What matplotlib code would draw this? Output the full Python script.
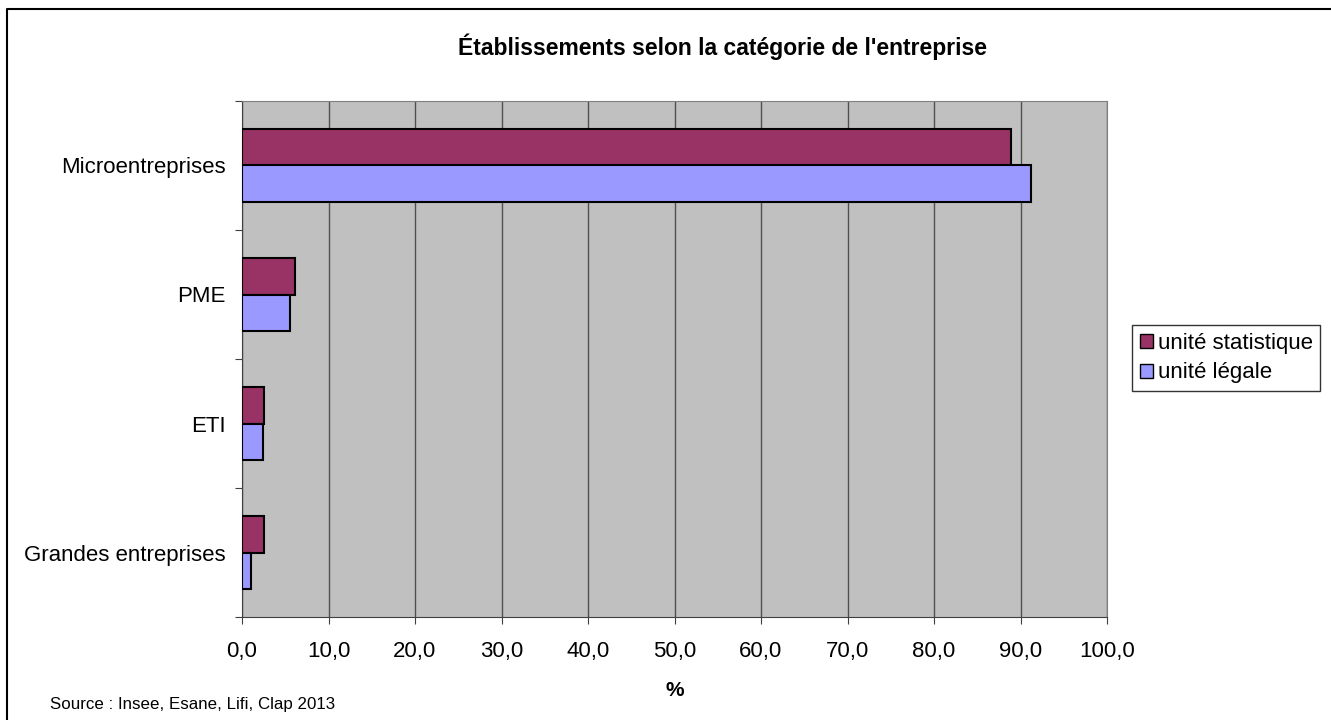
import matplotlib.pyplot as plt
from matplotlib.lines import Line2D
from matplotlib.patches import Patch
import numpy as np

plt.rcParams['font.family'] = ['Liberation Sans', 'DejaVu Sans']

categories = ['Grandes entreprises', 'ETI', 'PME', 'Microentreprises']
unite_statistique = [2.6, 2.5, 6.1, 88.9]
unite_legale = [1.0, 2.4, 5.5, 91.2]
x_ticks = np.arange(0, 101, 10)
x_tick_labels = [f'{v:.1f}'.replace('.', ',') for v in x_ticks]

fig = plt.figure(figsize=(13.31, 7.2), dpi=100)
ax = fig.add_axes([242 / 1331, 1 - 617 / 720, 865 / 1331, 516 / 720])
ax.set_facecolor('#C0C0C0')

# frame around the chart (only left and top visible in the reference)
fig.add_artist(Line2D([7 / 1331, 7 / 1331, 1.0], [0.0, 1 - 9 / 720, 1 - 9 / 720],
                      transform=fig.transFigure, color='black', lw=1.5))

y = np.arange(len(categories))
h = 0.28
ax.barh(y + h / 2, unite_statistique, height=h, color='#993366',
        edgecolor='black', linewidth=1.5, label='unité statistique', zorder=3)
ax.barh(y - h / 2, unite_legale, height=h, color='#9999FF',
        edgecolor='black', linewidth=1.5, label='unité légale', zorder=3)

ax.set_xlim(0, 100)
ax.set_ylim(-0.5, len(categories) - 0.5)
ax.set_xticks(x_ticks)
ax.set_xticklabels(x_tick_labels, fontsize=16)
ax.xaxis.grid(True, color='#505050', lw=1, zorder=1)

ax.set_yticks(np.arange(-0.5, len(categories), 1.0))
ax.set_yticklabels([])
ax.set_yticks(y, minor=True)
ax.set_yticklabels(categories, minor=True, fontsize=16)
ax.tick_params(axis='y', which='minor', length=0, pad=12)
ax.tick_params(axis='y', which='major', length=5, color='#404040')
ax.tick_params(axis='x', length=5, color='#404040', pad=12)

for side in ['top', 'right']:
    ax.spines[side].set_color('#808080')
for side in ['left', 'bottom']:
    ax.spines[side].set_color('#404040')

ax.set_xlabel('%', fontsize=15, fontweight='bold', labelpad=14)
fig.text(722 / 1331, 1 - 47 / 720, "Établissements selon la catégorie de l'entreprise",
         ha='center', va='center', fontsize=16.5, fontweight='bold')
fig.text(50 / 1331, 1 - 705 / 720, 'Source : Insee, Esane, Lifi, Clap 2013',
         ha='left', va='center', fontsize=12.2)

handles = [Patch(facecolor='#993366', edgecolor='black', label='unité statistique'),
           Patch(facecolor='#9999FF', edgecolor='black', label='unité légale')]
leg = fig.legend(handles=handles, loc='center left',
                 bbox_to_anchor=(1132 / 1331, 1 - 358 / 720), fontsize=16,
                 frameon=True, fancybox=False, handlelength=0.6, handleheight=0.6,
                 handletextpad=0.2, borderpad=0.35, labelspacing=0.4, borderaxespad=0)
leg.get_frame().set_edgecolor('black')
leg.get_frame().set_linewidth(1)

fig.savefig('out.png', dpi=100)
